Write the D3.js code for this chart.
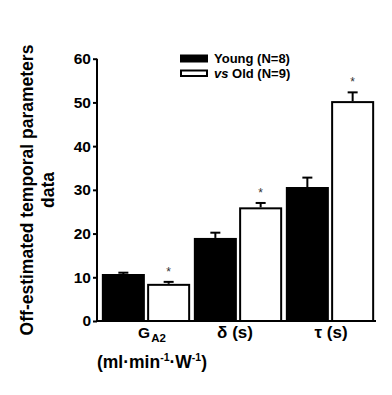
<!DOCTYPE html>
<html>
<head>
<meta charset="utf-8">
<script src="https://cdn.jsdelivr.net/npm/d3@7"></script>
<style>
  html, body { margin: 0; padding: 0; background: #fff; }
  svg { display: block; font-family: "Liberation Sans", Arial, sans-serif; }
</style>
</head>
<body>
<script>
const categories = ["GA2", "delta", "tau"];
const groups = ["Young (N=8)", "vs Old (N=9)"];
const youngMeans = [10.75, 19.0, 30.65];
const youngErr = [0.3, 1.2, 2.15];
const oldMeans = [8.5, 26.0, 50.3];
const oldErr = [0.45, 1.0, 2.0];
const oldSignificant = [true, true, true];
const yTicks = [0, 10, 20, 30, 40, 50, 60];

const W = 392, H = 395;
const svg = d3.select("body").append("svg").attr("width", W).attr("height", H);

const y = d3.scaleLinear().domain([0, 60]).range([321, 58.7]);
const x0 = d3.scaleBand().domain(categories).range([100, 376]).paddingInner(0.04).paddingOuter(0.02);
const x1 = d3.scaleBand().domain(["young", "old"]).range([0, x0.bandwidth()]).paddingInner(0.05);

const data = [];
categories.forEach((c, i) => {
  data.push({cat: c, grp: "young", v: youngMeans[i], e: youngErr[i], sig: false});
  data.push({cat: c, grp: "old", v: oldMeans[i], e: oldErr[i], sig: oldSignificant[i]});
});

// error bars (drawn first, bars cover lower part)
const eb = svg.append("g");
data.forEach(d => {
  const cx = x0(d.cat) + x1(d.grp) + x1.bandwidth() / 2;
  eb.append("line").attr("x1", cx).attr("x2", cx).attr("y1", y(d.v)).attr("y2", y(d.v + d.e))
    .attr("stroke", "#000").attr("stroke-width", 2);
  eb.append("line").attr("x1", cx - 5).attr("x2", cx + 5).attr("y1", y(d.v + d.e)).attr("y2", y(d.v + d.e))
    .attr("stroke", "#000").attr("stroke-width", 2);
});

// bars
svg.append("g").selectAll("rect").data(data).join("rect")
  .attr("x", d => x0(d.cat) + x1(d.grp) + (d.grp === "old" ? 1 : 0))
  .attr("y", d => y(d.v) + (d.grp === "old" ? 1 : 0))
  .attr("width", d => x1.bandwidth() - (d.grp === "old" ? 2 : 0))
  .attr("height", d => y(0) - y(d.v) - (d.grp === "old" ? 1 : 0))
  .attr("fill", d => d.grp === "young" ? "#000" : "#fff")
  .attr("stroke", d => d.grp === "old" ? "#000" : "none")
  .attr("stroke-width", 2);

// significance stars
svg.append("g").selectAll("text").data(data.filter(d => d.sig)).join("text")
  .attr("x", d => x0(d.cat) + x1(d.grp) + x1.bandwidth() / 2)
  .attr("y", d => y(d.v + d.e) - 6)
  .attr("text-anchor", "middle")
  .attr("font-size", 12)
  .attr("fill", "#333")
  .text("*");

// y axis
const yAxis = d3.axisLeft(y).tickValues(yTicks).tickSize(4).tickSizeOuter(0).tickPadding(2);
const ga = svg.append("g").attr("transform", "translate(97,0)").call(yAxis);
ga.select(".domain").attr("stroke-width", 2).attr("d", `M0,${y(60)}V${y(0)}`);
ga.selectAll(".tick line").attr("stroke-width", 2);
ga.selectAll(".tick text").attr("font-size", 15.5).attr("font-weight", "bold").attr("fill", "#000")
  .attr("font-family", "'Liberation Sans', Arial, sans-serif");

// x axis line
svg.append("line").attr("x1", 96).attr("x2", 376).attr("y1", y(0)).attr("y2", y(0))
  .attr("stroke", "#000").attr("stroke-width", 2);

// x labels
const xl = svg.append("g").attr("font-weight", "bold").attr("fill", "#000");
const tG = xl.append("text").attr("x", 152).attr("y", 338).attr("font-size", 15.5).attr("text-anchor", "middle");
tG.append("tspan").text("G");
tG.append("tspan").attr("font-size", 11.5).attr("dy", 4).attr("dx", 1).text("A2");
const tU = xl.append("text").attr("x", 152).attr("y", 368).attr("font-size", 17.5).attr("text-anchor", "middle");
tU.append("tspan").text("(ml\u00B7min");
tU.append("tspan").attr("font-size", 10.5).attr("dy", -7).text("-1");
tU.append("tspan").attr("dy", 7).text("\u00B7W");
tU.append("tspan").attr("font-size", 10.5).attr("dy", -7).text("-1");
tU.append("tspan").attr("dy", 7).text(")");
xl.append("text").attr("x", x0("delta") + x0.bandwidth() / 2 - 3).attr("y", 338).attr("font-size", 17)
  .attr("text-anchor", "middle").text("\u03B4 (s)");
xl.append("text").attr("x", x0("tau") + x0.bandwidth() / 2 + 1).attr("y", 338).attr("font-size", 17)
  .attr("text-anchor", "middle").text("\u03C4 (s)");

// y label
const yl = svg.append("text").attr("transform", "translate(0,190) rotate(-90)")
  .attr("text-anchor", "middle").attr("font-weight", "bold").attr("font-size", 17.5).attr("fill", "#000");
yl.append("tspan").attr("x", 0).attr("y", 33).text("Off-estimated temporal parameters");
yl.append("tspan").attr("x", 0).attr("y", 54).text("data");

// legend
const lg = svg.append("g");
lg.append("rect").attr("x", 180).attr("y", 54.5).attr("width", 28).attr("height", 8).attr("fill", "#000");
lg.append("rect").attr("x", 181).attr("y", 70.5).attr("width", 26).attr("height", 5.5)
  .attr("fill", "#fff").attr("stroke", "#000").attr("stroke-width", 2);
lg.append("text").attr("x", 214).attr("y", 63).attr("font-size", 13).attr("font-weight", "bold").text(groups[0]);
const t2 = lg.append("text").attr("x", 214).attr("y", 78).attr("font-size", 13).attr("font-weight", "bold");
t2.append("tspan").attr("font-style", "italic").text("vs");
t2.append("tspan").text(" Old (N=9)");
</script>
</body>
</html>
